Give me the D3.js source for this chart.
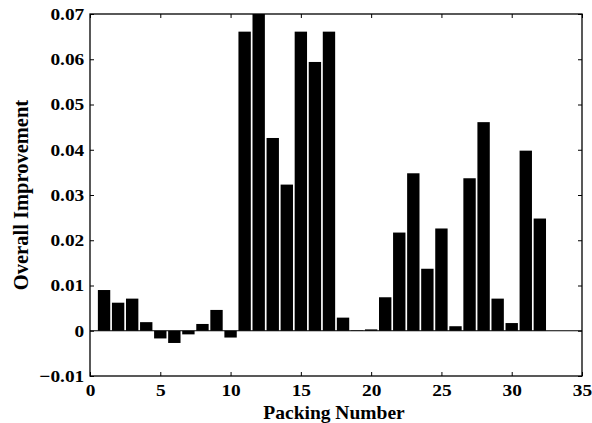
<!DOCTYPE html>
<html>
<head>
<meta charset="utf-8">
<script src="https://cdn.jsdelivr.net/npm/d3@7"></script>
<style>
  body { margin: 0; background: #fff; }
  svg { display: block; }
  text { font-family: "Liberation Serif", "Times New Roman", serif; font-weight: bold; fill: #000; }
</style>
</head>
<body>
<div id="chart"></div>
<script>
// packing numbers 1..32
const packing = d3.range(1, 33);
const improvement = [
  0.0090, 0.0062, 0.0071, 0.0019, -0.0017, -0.0027, -0.0008, 0.0015,
  0.0046, -0.0015, 0.0661, 0.0710, 0.0426, 0.0323, 0.0661, 0.0594,
  0.0661, 0.0029, 0.0001, 0.0003, 0.0074, 0.0217, 0.0348, 0.0137,
  0.0226, 0.0010, 0.0337, 0.0461, 0.0071, 0.0017, 0.0398, 0.0248
];
const xTicks = [0, 5, 10, 15, 20, 25, 30, 35];
const yTicks = [-0.01, 0, 0.01, 0.02, 0.03, 0.04, 0.05, 0.06, 0.07];

const width = 592, height = 423;
const m = { left: 90, right: 582, top: 14, bottom: 376 };

const svg = d3.select('#chart').append('svg')
  .attr('width', width).attr('height', height);

const x = d3.scaleLinear().domain([0, 35]).range([m.left, m.right]);
const y = d3.scaleLinear().domain([-0.01, 0.07]).range([m.bottom, m.top]);
const fmt = d => d === 0 ? '0' : d3.format('.2f')(d);

svg.append('clipPath').attr('id', 'clip')
  .append('rect').attr('x', m.left).attr('y', m.top)
  .attr('width', m.right - m.left).attr('height', m.bottom - m.top);

// bars
const bw = x(0.88) - x(0);
svg.append('g').attr('clip-path', 'url(#clip)')
  .selectAll('rect').data(packing).join('rect')
  .attr('x', d => x(d) - bw / 2)
  .attr('width', bw)
  .attr('y', (d, i) => y(Math.max(0, improvement[i])))
  .attr('height', (d, i) => Math.abs(y(improvement[i]) - y(0)))
  .attr('fill', '#000');

// zero baseline
svg.append('line')
  .attr('x1', m.left).attr('x2', m.right)
  .attr('y1', y(0)).attr('y2', y(0))
  .attr('stroke', '#000').attr('stroke-width', 1);

// axes, ticks pointing inward on all four sides
const tk = 4;
const axisStyle = g => {
  g.select('.domain').remove();
  g.selectAll('.tick line').attr('stroke', '#000');
  // reference glyphs are a bit wider than tall
  g.selectAll('text').style('font-size', '17px').attr('transform', 'scale(1.14,1)');
};

svg.append('g').attr('transform', `translate(0,${m.bottom})`)
  .call(d3.axisBottom(x).tickValues(xTicks).tickSize(-tk).tickPadding(8).tickFormat(d3.format('d')))
  .call(axisStyle);

svg.append('g').attr('transform', `translate(0,${m.top})`)
  .call(d3.axisTop(x).tickValues(xTicks).tickSize(-tk).tickFormat(''))
  .call(axisStyle);

svg.append('g').attr('transform', `translate(${m.left},0)`)
  .call(d3.axisLeft(y).tickValues(yTicks).tickSize(-tk).tickPadding(5).tickFormat(fmt))
  .call(axisStyle);

svg.append('g').attr('transform', `translate(${m.right},0)`)
  .call(d3.axisRight(y).tickValues(yTicks).tickSize(-tk).tickFormat(''))
  .call(axisStyle);

// frame
svg.append('rect')
  .attr('x', m.left).attr('y', m.top)
  .attr('width', m.right - m.left).attr('height', m.bottom - m.top)
  .attr('fill', 'none').attr('stroke', '#000').attr('stroke-width', 1.3);

// labels
svg.append('text')
  .attr('x', (m.left + m.right) / 2 - 2).attr('y', 418.5)
  .attr('text-anchor', 'middle')
  .style('font-size', '19.5px')
  .text('Packing Number');

svg.append('text')
  .attr('transform', `translate(28,${(m.top + m.bottom) / 2}) rotate(-90)`)
  .attr('text-anchor', 'middle')
  .style('font-size', '20.5px')
  .text('Overall Improvement');
</script>
</body>
</html>
